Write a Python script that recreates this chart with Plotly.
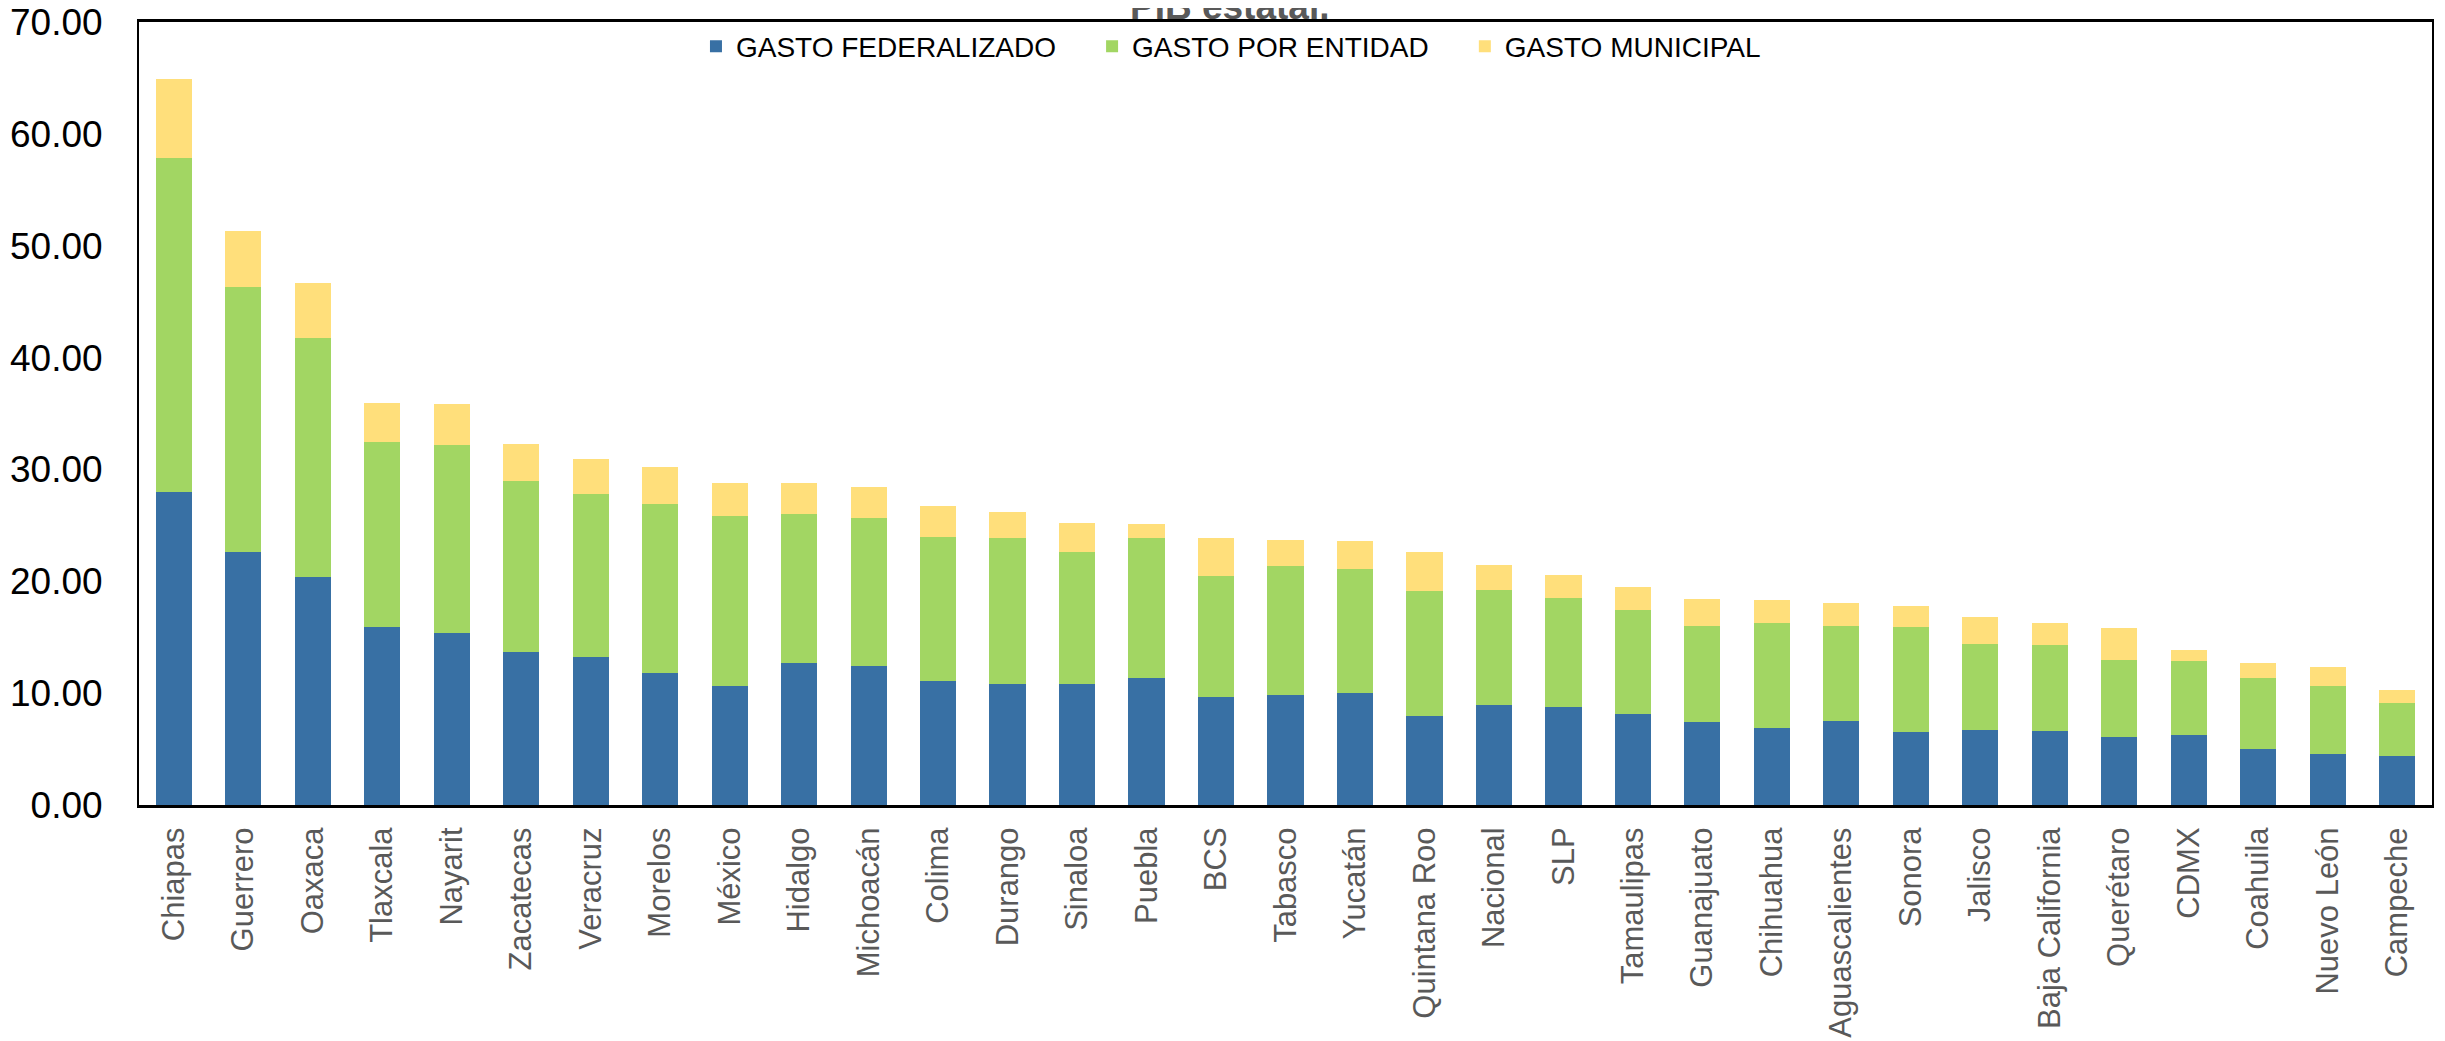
import plotly.graph_objects as go

# Entidades, ordered as in the chart
entidades = ["Chiapas", "Guerrero", "Oaxaca", "Tlaxcala", "Nayarit", "Zacatecas", "Veracruz",
             "Morelos", "México", "Hidalgo", "Michoacán", "Colima", "Durango", "Sinaloa",
             "Puebla", "BCS", "Tabasco", "Yucatán", "Quintana Roo", "Nacional", "SLP",
             "Tamaulipas", "Guanajuato", "Chihuahua", "Aguascalientes", "Sonora", "Jalisco",
             "Baja California", "Querétaro", "CDMX", "Coahuila", "Nuevo León", "Campeche"]

# % del PIB estatal
gasto_federalizado = [28.0, 22.6, 20.4, 15.9, 15.4, 13.7, 13.2, 11.8, 10.6, 12.7, 12.4,
                      11.1, 10.8, 10.8, 11.4, 9.7, 9.8, 10.0, 8.0, 8.9, 8.8, 8.1, 7.4,
                      6.9, 7.5, 6.5, 6.7, 6.6, 6.1, 6.3, 5.0, 4.6, 4.4]
gasto_por_entidad = [29.9, 23.7, 21.4, 16.6, 16.8, 15.3, 14.6, 15.1, 15.2, 13.3, 13.3,
                     12.9, 13.1, 11.8, 12.5, 10.8, 11.6, 11.1, 11.1, 10.3, 9.7, 9.3, 8.65,
                     9.4, 8.55, 9.4, 7.7, 7.7, 6.9, 6.6, 6.4, 6.0, 4.7]
gasto_municipal = [7.0, 5.0, 4.9, 3.45, 3.7, 3.3, 3.15, 3.3, 3.0, 2.8, 2.7,
                   2.7, 2.3, 2.6, 1.2, 3.4, 2.3, 2.5, 3.5, 2.3, 2.1, 2.1, 2.35,
                   2.0, 2.05, 1.9, 2.4, 2.0, 2.8, 1.0, 1.3, 1.7, 1.2]

series = [
    ("GASTO FEDERALIZADO", gasto_federalizado, "#3870A4"),
    ("GASTO POR ENTIDAD", gasto_por_entidad, "#A2D663"),
    ("GASTO MUNICIPAL", gasto_municipal, "#FFDF7B"),
]

fig = go.Figure()
for i, (name, vals, color) in enumerate(series):
    # extra non-breaking spaces give the wide gaps between legend entries
    label = name + ("\u00a0" * 4 if i < len(series) - 1 else "")
    fig.add_trace(go.Bar(name=label, x=entidades, y=vals,
                         marker=dict(color=color, line_width=0)))

# title is mostly cut off at the top in the original
fig.add_annotation(text="<b>PIB estatal.</b>", xref="paper", yref="paper",
                   x=0.4754, y=0.991, yanchor="bottom", showarrow=False,
                   font=dict(size=37, color="#595959"))

# the page adds a body margin, so margins are offset to compensate
fig.update_layout(
    width=2445, height=1041,
    barmode="stack", bargap=0.48,
    plot_bgcolor="white", paper_bgcolor="white",
    font=dict(family="Liberation Sans, Arial, sans-serif", color="black"),
    margin=dict(l=131, r=21, t=14, b=244),
    legend=dict(orientation="h", x=0.2429, xanchor="left", y=1.0005, yanchor="top",
                font=dict(size=28, color="black"), traceorder="normal",
                itemwidth=30, bgcolor="rgba(0,0,0,0)"),
    showlegend=True,
)
fig.update_yaxes(range=[0, 70.02], tickvals=[0, 10, 20, 30, 40, 50, 60, 70],
                 tickformat=".2f", showgrid=False, automargin=False,
                 ticklabeloverflow="allow",
                 showline=True, linecolor="black", linewidth=2, mirror=True,
                 ticks="", ticklabelstandoff=27,
                 tickfont=dict(size=37, color="black"), zeroline=False)
fig.update_xaxes(showline=True, linecolor="black", linewidth=3, mirror=True,
                 automargin=False, tickangle=-90, ticks="", ticklabelstandoff=7,
                 ticklabeloverflow="allow",
                 tickfont=dict(size=31, color="#595959"))

fig.write_html("out.html")
